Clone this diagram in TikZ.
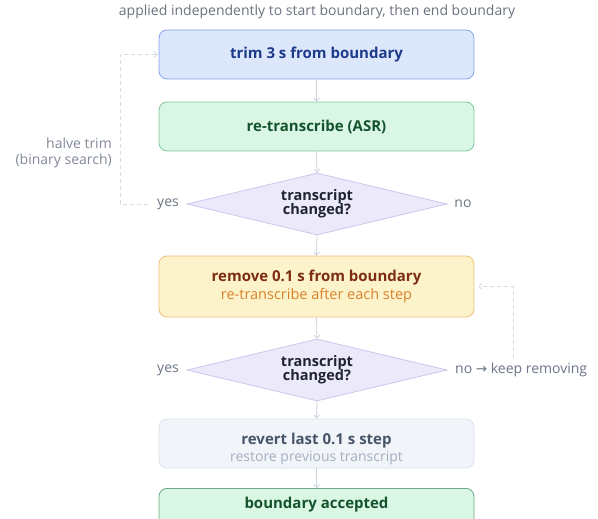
\documentclass[tikz,border=0pt]{standalone}
\usepackage{fontspec}
\setmainfont{Open Sans}
\newfontfamily\symfont{DejaVu Sans}
\usetikzlibrary{shapes.geometric,arrows.meta}
\definecolor{titlegray}{HTML}{6B7280}
\definecolor{lblgray}{HTML}{6B7585}
\definecolor{lnk}{HTML}{CBD3DE}
\definecolor{dsh}{HTML}{D6DCE5}
\definecolor{bluef}{HTML}{DCE7FB}
\definecolor{bluel}{HTML}{86A2EE}
\definecolor{bluet}{HTML}{1E3A8A}
\definecolor{greenf}{HTML}{DAF6E5}
\definecolor{greenl}{HTML}{7FC79C}
\definecolor{greent}{HTML}{14532D}
\definecolor{diaf}{HTML}{ECE9FA}
\definecolor{dial}{HTML}{CBC6EE}
\definecolor{diat}{HTML}{1F2433}
\definecolor{yelf}{HTML}{FDF3CB}
\definecolor{yell}{HTML}{EFC27A}
\definecolor{yelt}{HTML}{7C2D12}
\definecolor{yels}{HTML}{D9822B}
\definecolor{grayf}{HTML}{F1F4F9}
\definecolor{grayl}{HTML}{DCE2EB}
\definecolor{grayt}{HTML}{475569}
\definecolor{grays}{HTML}{A3AEBF}
\begin{document}
\begin{tikzpicture}[x=1pt,y=-1pt,
  box/.style={rectangle,rounded corners=8pt,minimum width=315pt,minimum height=49pt,line width=0.8pt,inner sep=0pt,align=center},
  dia/.style={diamond,aspect=4.19,minimum width=260pt,minimum height=62pt,inner sep=0pt,fill=diaf,draw=dial,line width=0.8pt,align=center,text=diat,font=\fontsize{14.5}{15}\selectfont\bfseries},
  lbl/.style={text=lblgray,font=\fontsize{14}{16}\selectfont,inner sep=0pt},
  arr/.style={draw=lnk,line width=0.8pt,-{Straight Barb[length=3pt,width=6pt]}},
  loop/.style={draw=dsh,line width=0.8pt,dash pattern=on 4pt off 3pt,-{Straight Barb[length=3pt,width=6pt]}},
  head/.style={font=\fontsize{15}{18}\selectfont\bfseries,inner sep=0pt},
  sub/.style={font=\fontsize{14}{16}\selectfont,inner sep=0pt}]
\useasboundingbox (0,0) rectangle (598,519);
\node[text=titlegray,font=\fontsize{14}{16}\selectfont,inner sep=0pt] (title) at (317,12) {applied independently to start boundary, then end boundary};
\node[box,fill=bluef,draw=bluel,text=bluet,head] (b1) at (316.5,54.5) {trim 3 s from boundary};
\node[box,fill=greenf,draw=greenl,text=greent,head] (b2) at (316.5,126.5) {re-transcribe (ASR)};
\node[dia] (d1) at (317,204) {transcript\\[-1pt]changed?};
\node[box,fill=yelf,draw=yell,minimum height=61pt] (b3) at (316.5,286.5) {};
\node[head,text=yelt] (b3a) at (316.5,278) {remove 0.1 s from boundary};
\node[sub,text=yels,font=\fontsize{14.5}{16}\selectfont] (b3b) at (316.5,296) {re-transcribe after each step};
\node[dia] (d2) at (317,370) {transcript\\[-1pt]changed?};
\node[box,fill=grayf,draw=grayl] (b4) at (316.5,443.5) {};
\node[head,text=grayt] (b4a) at (316.5,441) {revert last 0.1 s step};
\node[sub,text=grays] (b4b) at (316.5,458) {restore previous transcript};
\node[box,fill=greenf,draw=greenl!85!black,minimum height=60pt,anchor=north] (b5) at (316.5,488) {};
\node[text=greent,head] (b5t) at (316.5,505) {boundary accepted};
\node[lbl] (yes1) at (168,204) {yes};
\node[lbl] (no1) at (463,204) {no};
\node[lbl] (yes2) at (168,370) {yes};
\node[lbl,anchor=west] (no2) at (455,370) {no {\symfont\fontsize{13.5}{14}\selectfont →} keep removing};
\node[lbl,align=right,anchor=east,text=lblgray!85] (halve) at (112,153) {halve trim\\(binary search)};
\draw[arr] (b1.south) -- (b2.north);
\draw[arr] (b2.south) -- (d1.north);
\draw[arr] (d1.south) -- (b3.north);
\draw[arr] (b3.south) -- (d2.north);
\draw[arr] (d2.south) -- (b4.north);
\draw[arr] (b4.south) -- (b5.north);
\draw[loop,shorten <=9pt,shorten >=1pt] (yes1.west) -- (120,204) |- (b1.west);
\draw[loop,shorten >=4pt] (513,358) coordinate (lp) -- (513,286.5) -- (b3.east);
\end{tikzpicture}
\end{document}
